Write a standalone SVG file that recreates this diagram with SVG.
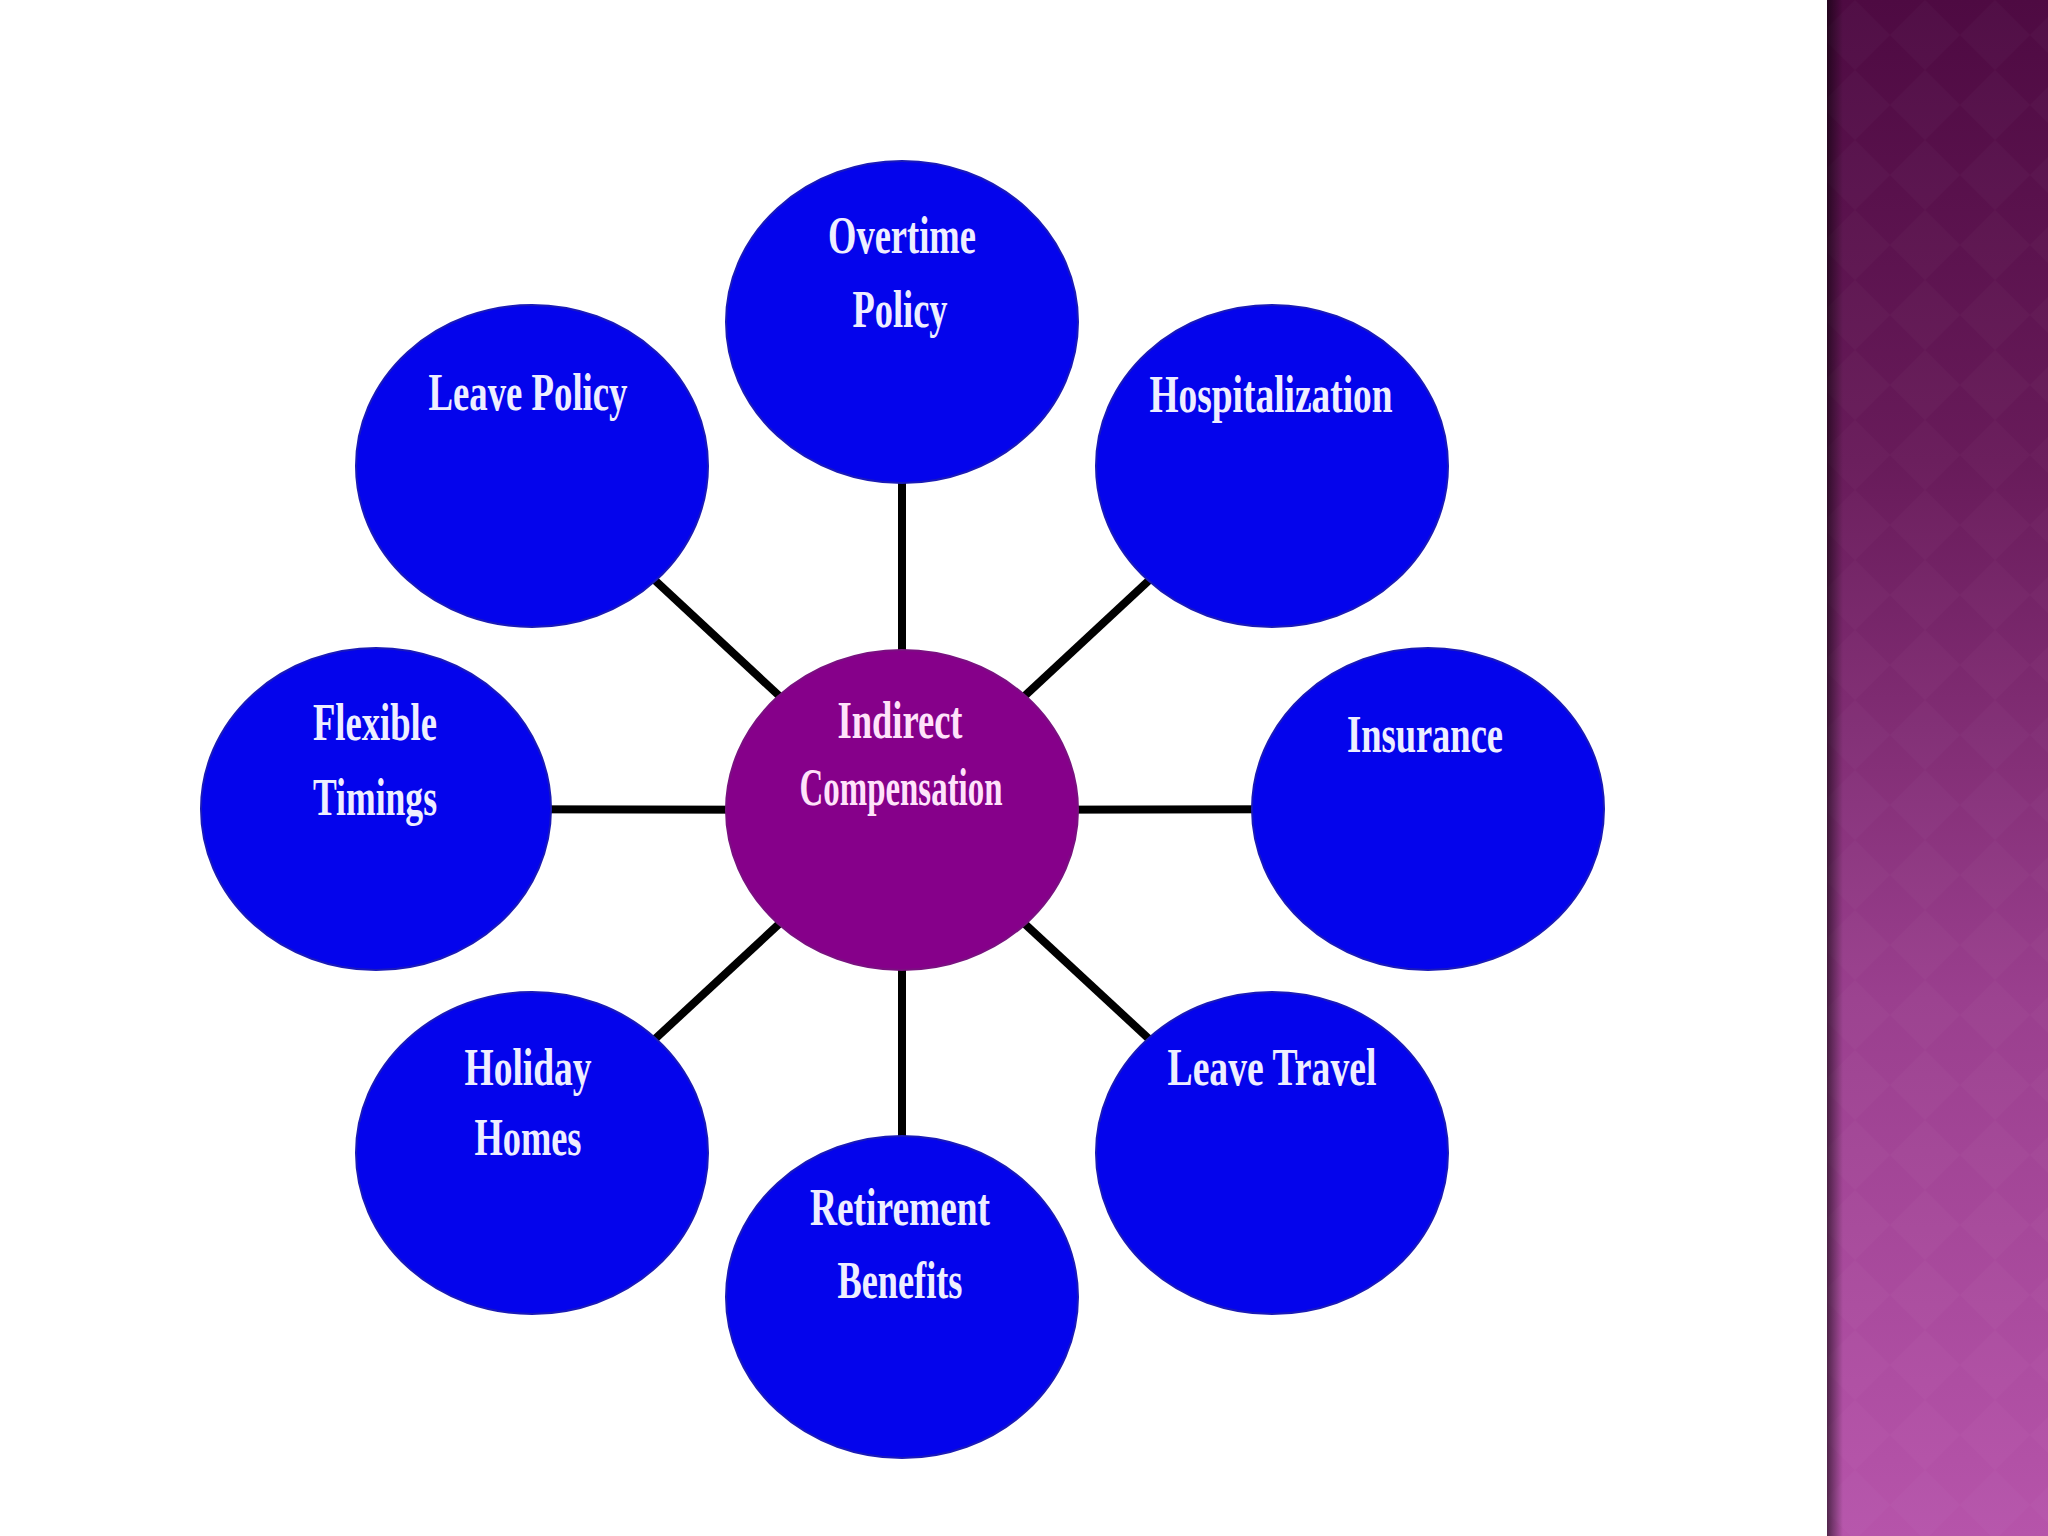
<svg xmlns="http://www.w3.org/2000/svg" width="2048" height="1536" viewBox="0 0 2048 1536">
  <defs>
    <linearGradient id="band" x1="0" y1="0" x2="0" y2="1">
      <stop offset="0" stop-color="#4e0a42"/>
      <stop offset="0.3" stop-color="#681b5a"/>
      <stop offset="0.65" stop-color="#9a3f8e"/>
      <stop offset="1" stop-color="#b654aa"/>
    </linearGradient>
    <linearGradient id="bandShade" x1="0" y1="0" x2="1" y2="0">
      <stop offset="0" stop-color="#000" stop-opacity="0.55"/>
      <stop offset="1" stop-color="#000" stop-opacity="0"/>
    </linearGradient>
    <pattern id="diamonds" width="70" height="70" patternUnits="userSpaceOnUse">
      <path d="M35 0 L70 35 L35 70 L0 35 Z" fill="#ffffff" fill-opacity="0.018"/>
    </pattern>
    <style>
      .conn { stroke: #000; stroke-width: 8; stroke-linecap: butt; }
      .leaf { fill: #0404ec; stroke: #1a1ab8; stroke-width: 2; }
      .hub { fill: #86008a; stroke: #7a1080; stroke-width: 2; }
      .lbl { font-family: "Liberation Serif", "Times New Roman", serif; font-weight: bold; font-size: 52px; fill: #eeeeff; text-anchor: middle; }
      .hubl { fill: #ffe2fa; }
    </style>
  </defs>

  <rect x="0" y="0" width="2048" height="1536" fill="#ffffff"/>

  <!-- right decorative band -->
  <rect x="1827" y="0" width="221" height="1536" fill="url(#band)"/>
  <rect x="1827" y="0" width="221" height="1536" fill="url(#diamonds)"/>
  <rect x="1827" y="0" width="16" height="1536" fill="url(#bandShade)"/>

  <g id="connectors">
    <line class="conn" x1="902" y1="810" x2="902" y2="322"/>
    <line class="conn" x1="902" y1="810" x2="1272" y2="466"/>
    <line class="conn" x1="902" y1="810" x2="1428" y2="809"/>
    <line class="conn" x1="902" y1="810" x2="1272" y2="1153"/>
    <line class="conn" x1="902" y1="810" x2="902" y2="1297"/>
    <line class="conn" x1="902" y1="810" x2="532" y2="1153"/>
    <line class="conn" x1="902" y1="810" x2="376" y2="809"/>
    <line class="conn" x1="902" y1="810" x2="532" y2="466"/>
  </g>

  <g id="node-overtime">
    <ellipse class="leaf" cx="902" cy="322" rx="176" ry="161"/>
    <text class="lbl" x="902" y="253" textLength="148" lengthAdjust="spacingAndGlyphs">Overtime</text>
    <text class="lbl" x="900" y="327" textLength="95" lengthAdjust="spacingAndGlyphs">Policy</text>
  </g>

  <g id="node-leave-policy">
    <ellipse class="leaf" cx="532" cy="466" rx="176" ry="161"/>
    <text class="lbl" x="528" y="410" textLength="199" lengthAdjust="spacingAndGlyphs">Leave Policy</text>
  </g>

  <g id="node-hospitalization">
    <ellipse class="leaf" cx="1272" cy="466" rx="176" ry="161"/>
    <text class="lbl" x="1271" y="412" textLength="243" lengthAdjust="spacingAndGlyphs">Hospitalization</text>
  </g>

  <g id="node-flexible">
    <ellipse class="leaf" cx="376" cy="809" rx="175" ry="161"/>
    <text class="lbl" x="375" y="740" textLength="124" lengthAdjust="spacingAndGlyphs">Flexible</text>
    <text class="lbl" x="375" y="815" textLength="124" lengthAdjust="spacingAndGlyphs">Timings</text>
  </g>

  <g id="node-insurance">
    <ellipse class="leaf" cx="1428" cy="809" rx="176" ry="161"/>
    <text class="lbl" x="1425" y="752" textLength="156" lengthAdjust="spacingAndGlyphs">Insurance</text>
  </g>

  <g id="node-holiday">
    <ellipse class="leaf" cx="532" cy="1153" rx="176" ry="161"/>
    <text class="lbl" x="528" y="1085" textLength="127" lengthAdjust="spacingAndGlyphs">Holiday</text>
    <text class="lbl" x="528" y="1155" textLength="107" lengthAdjust="spacingAndGlyphs">Homes</text>
  </g>

  <g id="node-leave-travel">
    <ellipse class="leaf" cx="1272" cy="1153" rx="176" ry="161"/>
    <text class="lbl" x="1272" y="1085" textLength="209" lengthAdjust="spacingAndGlyphs">Leave Travel</text>
  </g>

  <g id="node-retirement">
    <ellipse class="leaf" cx="902" cy="1297" rx="176" ry="161"/>
    <text class="lbl" x="900" y="1225" textLength="180" lengthAdjust="spacingAndGlyphs">Retirement</text>
    <text class="lbl" x="900" y="1298" textLength="125" lengthAdjust="spacingAndGlyphs">Benefits</text>
  </g>

  <g id="node-center">
    <ellipse class="hub" cx="902" cy="810" rx="176" ry="160"/>
    <text class="lbl hubl" x="900" y="738" textLength="125" lengthAdjust="spacingAndGlyphs">Indirect</text>
    <text class="lbl hubl" x="901" y="805" textLength="203" lengthAdjust="spacingAndGlyphs">Compensation</text>
  </g>
</svg>
